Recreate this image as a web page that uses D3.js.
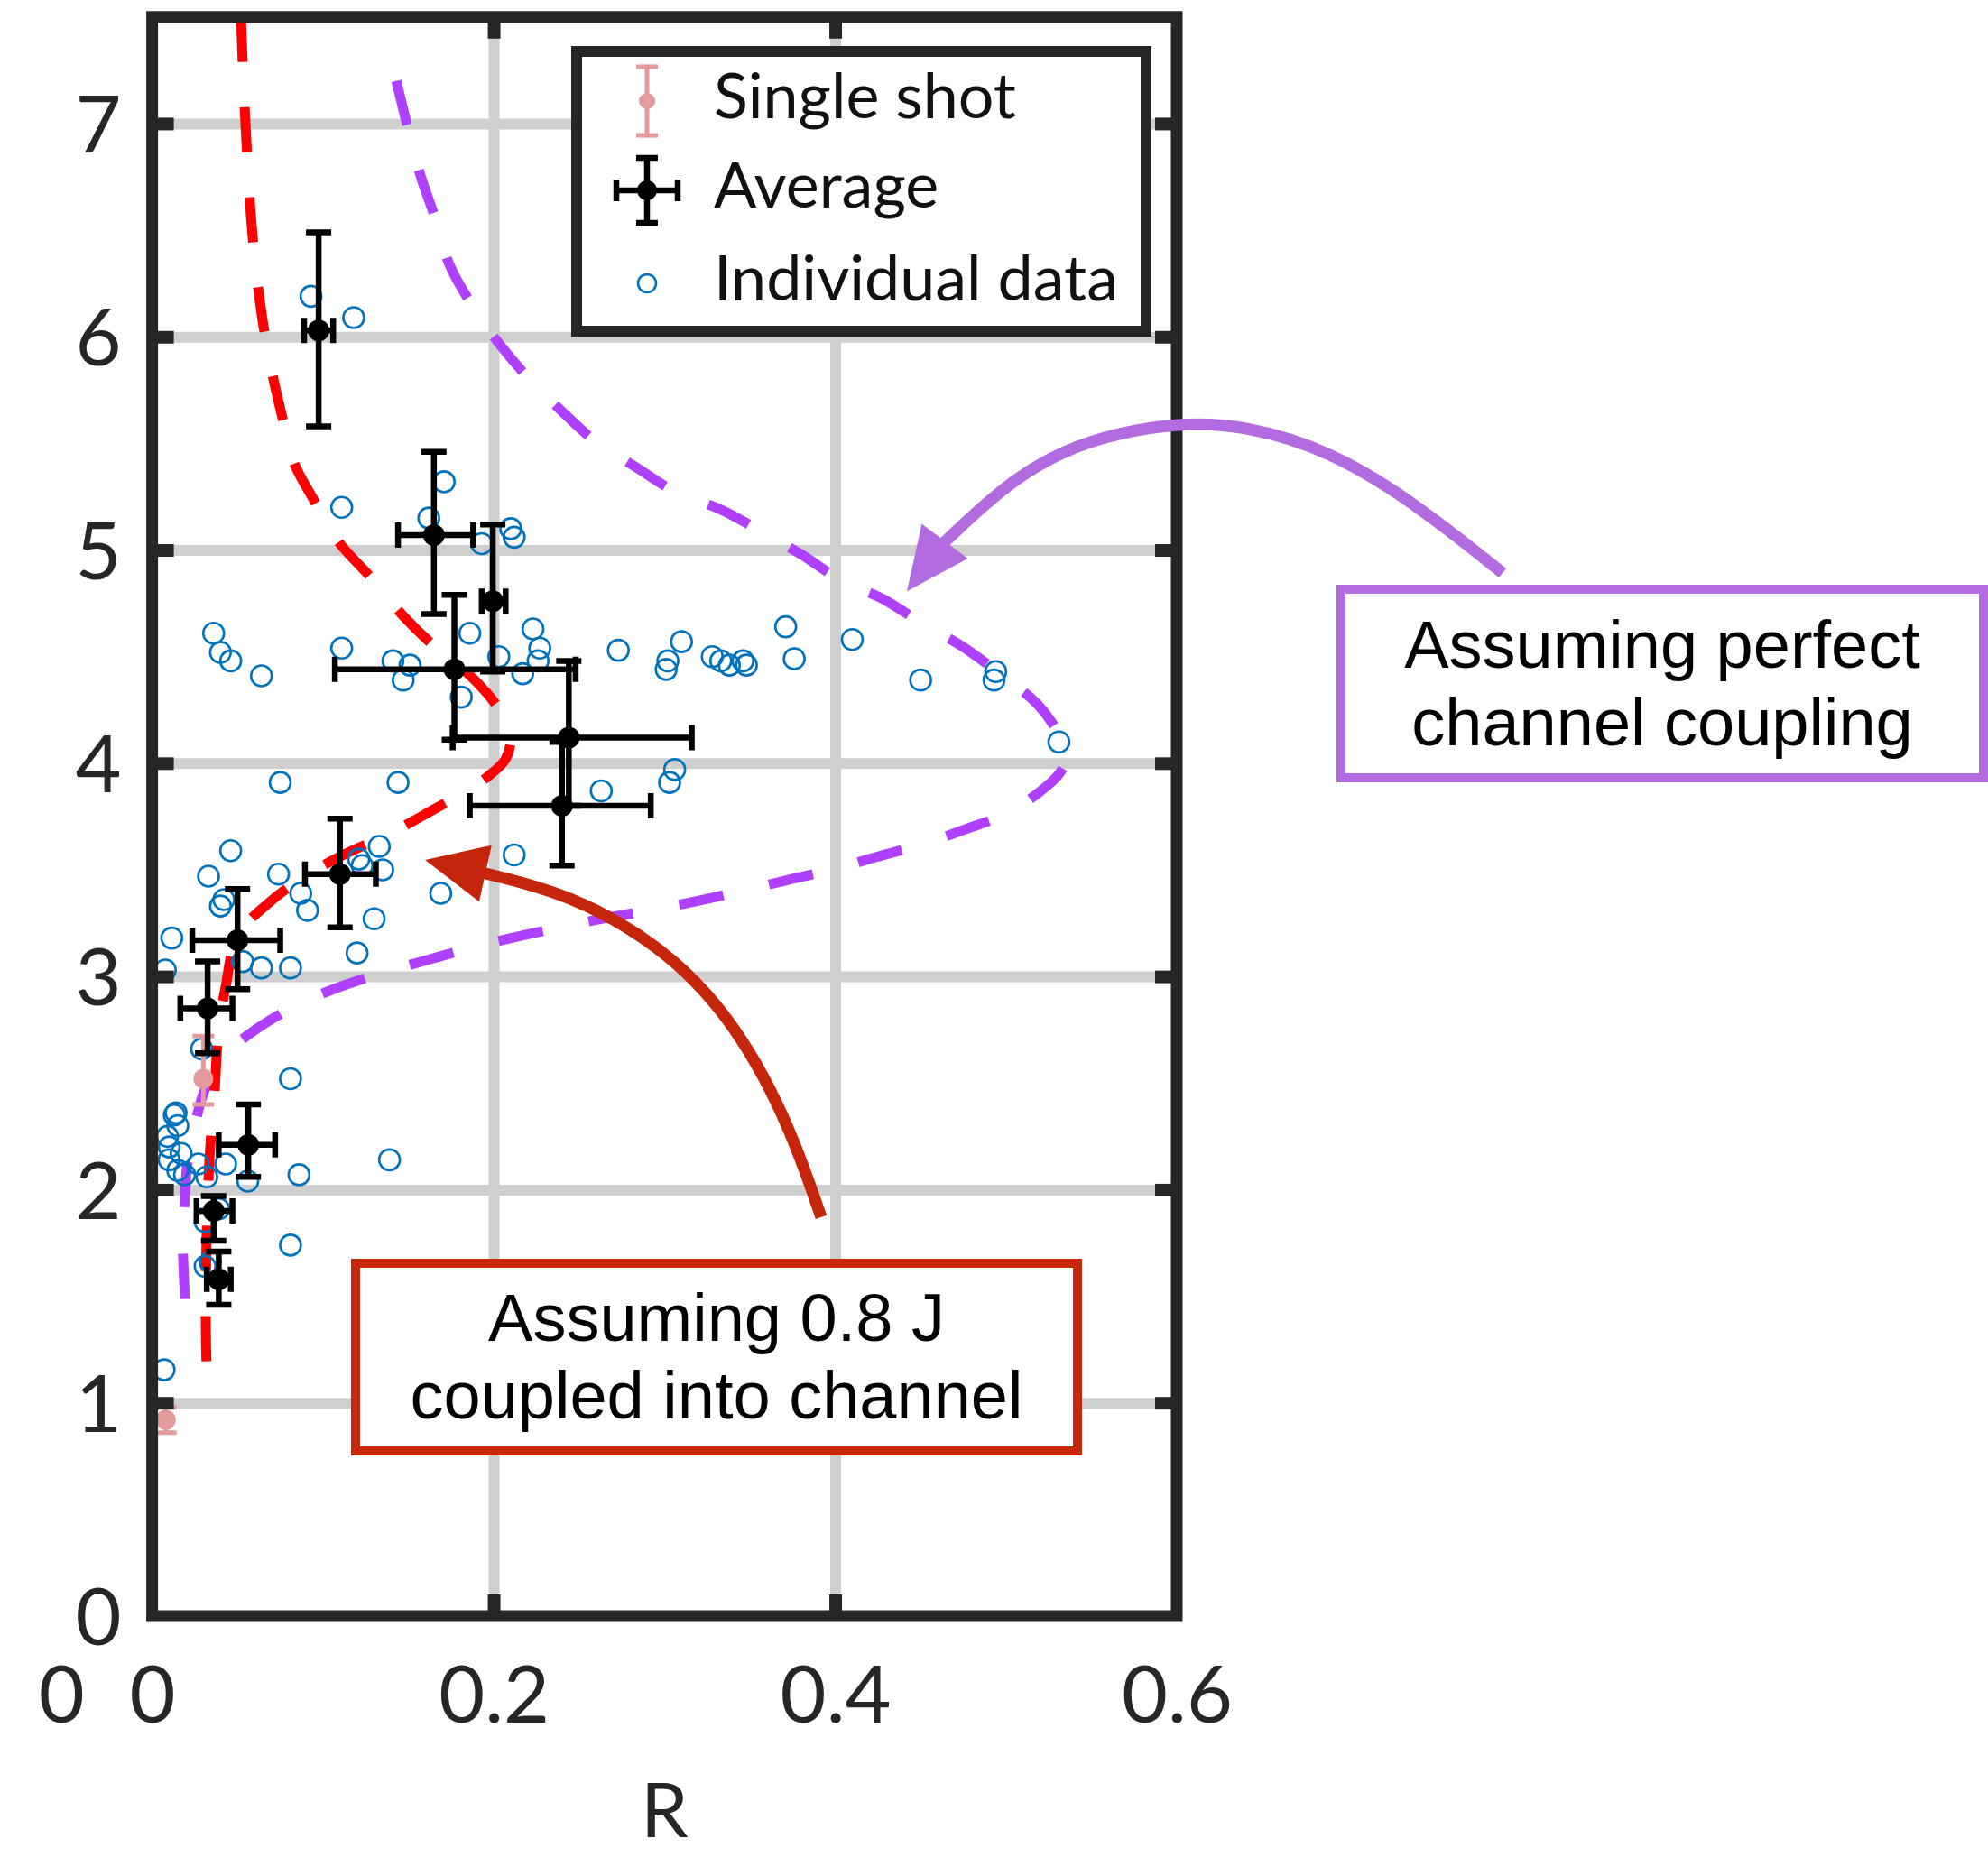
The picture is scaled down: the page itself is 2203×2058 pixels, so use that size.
<!DOCTYPE html>
<html>
<head>
<meta charset="utf-8">
<script src="https://cdn.jsdelivr.net/npm/d3@7"></script>
<style>
  html, body { margin: 0; padding: 0; background: #fff; }
  svg { display: block; }
</style>
</head>
<body>
<div id="chart"></div>
<script>
// ---- data ----
const xTicks = [0, 0.2, 0.4, 0.6];
const xTickLabels = ["0", "0.2", "0.4", "0.6"];
const yTicks = [0, 1, 2, 3, 4, 5, 6, 7];
const xGrid = [0.2, 0.4];
const yGrid = [1, 2, 3, 4, 5, 6, 7];

// model curve, 0.8 J coupled into channel (red dashed)
const redR = [0.052, 0.054, 0.056, 0.058, 0.061, 0.065, 0.070, 0.076, 0.083, 0.095, 0.109, 0.127, 0.146, 0.165, 0.185, 0.200, 0.207, 0.210, 0.207, 0.197, 0.186, 0.162, 0.139, 0.112, 0.0895, 0.0675, 0.050, 0.043, 0.039, 0.0365, 0.034, 0.0325, 0.0315, 0.0315, 0.0325];
const redY = [7.5, 7.1, 6.8, 6.55, 6.3, 6.06, 5.84, 5.63, 5.41, 5.23, 5.04, 4.88, 4.70, 4.55, 4.42, 4.29, 4.20, 4.12, 4.02, 3.94, 3.88, 3.77, 3.67, 3.57, 3.47, 3.34, 3.19, 2.95, 2.76, 2.45, 2.2, 1.95, 1.6, 1.3, 1.0];

// model curve, perfect channel coupling (purple dashed)
const purpleR = [0.143, 0.150, 0.157, 0.166, 0.174, 0.188, 0.202, 0.221, 0.240, 0.261, 0.283, 0.307, 0.333, 0.356, 0.380, 0.403, 0.428, 0.452, 0.474, 0.498, 0.518, 0.530, 0.536, 0.532, 0.525, 0.502, 0.476, 0.451, 0.424, 0.398, 0.371, 0.345, 0.317, 0.291, 0.263, 0.239, 0.210, 0.185, 0.158, 0.132, 0.106, 0.081, 0.057, 0.041, 0.030, 0.025, 0.021, 0.019, 0.018, 0.019, 0.020];
const purpleY = [7.20, 6.97, 6.76, 6.55, 6.34, 6.14, 5.98, 5.80, 5.65, 5.50, 5.39, 5.27, 5.19, 5.09, 4.98, 4.86, 4.77, 4.65, 4.55, 4.41, 4.28, 4.15, 4.04, 3.96, 3.90, 3.77, 3.69, 3.62, 3.56, 3.50, 3.45, 3.40, 3.35, 3.31, 3.27, 3.23, 3.18, 3.13, 3.07, 3.01, 2.94, 2.85, 2.73, 2.62, 2.45, 2.30, 2.15, 1.94, 1.75, 1.52, 1.31];

// averages with error bars
const avgR  = [0.0975, 0.165, 0.1995, 0.177, 0.244, 0.240, 0.110, 0.050, 0.0325, 0.0563, 0.036, 0.039];
const avgY  = [6.03, 5.07, 4.76, 4.44, 4.12, 3.80, 3.48, 3.17, 2.85, 2.21, 1.90, 1.58];
const avgYlo = [5.58, 4.70, 4.43, 4.11, 3.80, 3.52, 3.23, 2.94, 2.64, 2.06, 1.76, 1.46];
const avgYhi = [6.49, 5.46, 5.12, 4.79, 4.48, 4.10, 3.74, 3.41, 3.07, 2.40, 1.97, 1.71];
const avgRlo = [0.089, 0.144, 0.193, 0.107, 0.176, 0.186, 0.0895, 0.0235, 0.0165, 0.039, 0.026, 0.032];
const avgRhi = [0.106, 0.188, 0.207, 0.248, 0.316, 0.292, 0.131, 0.075, 0.047, 0.072, 0.047, 0.046];

// single shots
const singleR = [0.030, 0.008];
const singleY = [2.52, 0.92];
const singleYlo = [2.40, 0.86];
const singleYhi = [2.72, 0.98];

// individual data
const indR = [0.093, 0.118, 0.171, 0.111, 0.162, 0.193, 0.210, 0.212, 0.186, 0.223, 0.203, 0.227, 0.226, 0.217, 0.111, 0.036, 0.040, 0.046, 0.064, 0.141, 0.151, 0.147, 0.181,
  0.273, 0.302, 0.301, 0.310, 0.328, 0.333, 0.338, 0.346, 0.348, 0.371, 0.376, 0.410, 0.450, 0.494, 0.493, 0.531, 0.306, 0.303, 0.263,
  0.075, 0.144, 0.212, 0.046, 0.033, 0.074, 0.087, 0.091, 0.040, 0.042, 0.133, 0.121, 0.123, 0.135, 0.169, 0.130, 0.0115, 0.120, 0.064, 0.081, 0.053, 0.0077,
  0.029, 0.081, 0.014, 0.139, 0.086, 0.081, 0.056, 0.007, 0.031, 0.013, 0.015, 0.009, 0.010, 0.017, 0.0099, 0.015, 0.019, 0.027, 0.032, 0.043, 0.039, 0.031, 0.034];
const indY = [6.19, 6.09, 5.32, 5.20, 5.15, 5.03, 5.10, 5.06, 4.61, 4.63, 4.50, 4.54, 4.48, 4.42, 4.54, 4.61, 4.52, 4.48, 4.41, 4.48, 4.46, 4.39, 4.31,
  4.53, 4.48, 4.44, 4.57, 4.50, 4.48, 4.46, 4.48, 4.46, 4.64, 4.49, 4.58, 4.39, 4.43, 4.39, 4.10, 3.97, 3.91, 3.87,
  3.91, 3.91, 3.57, 3.59, 3.47, 3.48, 3.39, 3.31, 3.33, 3.36, 3.61, 3.55, 3.52, 3.50, 3.39, 3.27, 3.18, 3.11, 3.04, 3.04, 3.07, 3.03,
  2.66, 2.52, 2.36, 2.14, 2.07, 1.74, 2.04, 1.155, 1.64, 2.35, 2.30, 2.25, 2.20, 2.17, 2.14, 2.09, 2.07, 2.12, 2.06, 2.12, 1.91, 1.85, 1.66];

const legendLabels = ["Single shot", "Average", "Individual data"];

// annotation arrows, in data units (R, y); last point is where the head starts
const redArrowR = [0.3918, 0.3711, 0.3380, 0.2972, 0.2449, 0.1931];
const redArrowY = [1.871, 2.349, 2.823, 3.149, 3.386, 3.487];
const redArrowTip = [0.1598, 3.546];
const purpleArrowR = [0.7908, 0.7427, 0.6904, 0.6386, 0.6016, 0.5493, 0.5049, 0.4629];
const purpleArrowY = [4.892, 5.201, 5.468, 5.586, 5.599, 5.527, 5.349, 5.028];
const purpleArrowTip = [0.4420, 4.807];

// ---- layout ----
const width = 2203, height = 2058;
const plot = { left: 168.6, right: 1304, top: 18.8, bottom: 1791 };
const dark = "#262626";
const tickFont = "Lato, 'Open Sans', sans-serif";

const x = d3.scaleLinear().domain([0, 0.6]).range([plot.left, plot.right]);
const y = d3.scaleLinear().domain([0, 7.5]).range([plot.bottom, plot.top]);

const svg = d3.select("#chart").append("svg")
    .attr("width", width)
    .attr("height", height);

svg.append("rect").attr("width", width).attr("height", height).attr("fill", "#fff");

svg.append("clipPath").attr("id", "plot-clip")
  .append("rect")
    .attr("x", plot.left).attr("y", plot.top)
    .attr("width", plot.right - plot.left)
    .attr("height", plot.bottom - plot.top);

// gridlines
const gridY = svg.append("g")
    .attr("transform", `translate(${plot.left},0)`)
    .call(d3.axisLeft(y).tickValues(yGrid).tickSize(-(plot.right - plot.left)).tickFormat(""));
const gridX = svg.append("g")
    .attr("transform", `translate(0,${plot.bottom})`)
    .call(d3.axisBottom(x).tickValues(xGrid).tickSize(-(plot.bottom - plot.top)).tickFormat(""));
[gridY, gridX].forEach(g => {
  g.select(".domain").remove();
  g.selectAll("line").attr("stroke", "#cfcfcf").attr("stroke-width", 12);
});

// model curves
const data = svg.append("g").attr("clip-path", "url(#plot-clip)");
const curve = d3.line().curve(d3.curveCatmullRom.alpha(0.5)).x(d => x(d[0])).y(d => y(d[1]));

data.append("path")
    .datum(d3.zip(purpleR, purpleY))
    .attr("fill", "none")
    .attr("stroke", "#b040ff")
    .attr("stroke-width", 11)
    .attr("stroke-dasharray", "50,52")
    .attr("d", curve);

data.append("path")
    .datum(d3.zip(redR, redY))
    .attr("fill", "none")
    .attr("stroke", "#ff0000")
    .attr("stroke-width", 11)
    .attr("stroke-dasharray", "50,50")
    .attr("d", curve);

// individual data
data.append("g")
  .selectAll("circle")
  .data(d3.zip(indR, indY))
  .join("circle")
    .attr("cx", d => x(d[0]))
    .attr("cy", d => y(d[1]))
    .attr("r", 11.5)
    .attr("fill", "none")
    .attr("stroke", "#0072bd")
    .attr("stroke-width", 2.6);

// single shots
const pink = "#e39a9a";
const singles = data.append("g")
  .selectAll("g")
  .data(singleR.map((r, i) => ({ r, v: singleY[i], lo: singleYlo[i], hi: singleYhi[i] })))
  .join("g")
    .attr("stroke", pink)
    .attr("stroke-width", 5);
singles.append("line")
    .attr("x1", d => x(d.r)).attr("x2", d => x(d.r))
    .attr("y1", d => y(d.lo)).attr("y2", d => y(d.hi));
singles.append("line")
    .attr("x1", d => x(d.r) - 12).attr("x2", d => x(d.r) + 12)
    .attr("y1", d => y(d.hi)).attr("y2", d => y(d.hi));
singles.append("line")
    .attr("x1", d => x(d.r) - 12).attr("x2", d => x(d.r) + 12)
    .attr("y1", d => y(d.lo)).attr("y2", d => y(d.lo));
singles.append("circle")
    .attr("cx", d => x(d.r)).attr("cy", d => y(d.v))
    .attr("r", 11).attr("fill", pink).attr("stroke", "none");

// averages
const cap = 14;
const avgs = data.append("g")
  .selectAll("g")
  .data(avgR.map((r, i) => ({ r, v: avgY[i], ylo: avgYlo[i], yhi: avgYhi[i], rlo: avgRlo[i], rhi: avgRhi[i] })))
  .join("g")
    .attr("stroke", "#000")
    .attr("stroke-width", 6.5);
avgs.append("path")
    .attr("fill", "none")
    .attr("d", d => {
      const cx = x(d.r), cy = y(d.v);
      const y0 = y(d.ylo), y1 = y(d.yhi), x0 = x(d.rlo), x1 = x(d.rhi);
      return `M${cx},${y0}V${y1}M${cx - cap},${y1}H${cx + cap}M${cx - cap},${y0}H${cx + cap}` +
             `M${x0},${cy}H${x1}M${x0},${cy - cap}V${cy + cap}M${x1},${cy - cap}V${cy + cap}`;
    });
avgs.append("circle")
    .attr("cx", d => x(d.r)).attr("cy", d => y(d.v))
    .attr("r", 12).attr("fill", "#000").attr("stroke", "none");

// frame ticks (inward)
const tickLen = 24;
const frameTicks = [
  svg.append("g").attr("transform", `translate(${plot.left},0)`).call(d3.axisLeft(y).tickValues(yGrid).tickSize(-tickLen).tickFormat("")),
  svg.append("g").attr("transform", `translate(${plot.right},0)`).call(d3.axisRight(y).tickValues(yGrid).tickSize(-tickLen).tickFormat("")),
  svg.append("g").attr("transform", `translate(0,${plot.bottom})`).call(d3.axisBottom(x).tickValues(xGrid).tickSize(-tickLen).tickFormat("")),
  svg.append("g").attr("transform", `translate(0,${plot.top})`).call(d3.axisTop(x).tickValues(xGrid).tickSize(-tickLen).tickFormat(""))
];
frameTicks.forEach(g => {
  g.select(".domain").remove();
  g.selectAll("line").attr("stroke", dark).attr("stroke-width", 14);
});

// frame
svg.append("rect")
    .attr("x", plot.left).attr("y", plot.top)
    .attr("width", plot.right - plot.left)
    .attr("height", plot.bottom - plot.top)
    .attr("fill", "none")
    .attr("stroke", dark)
    .attr("stroke-width", 13);

// tick labels
const yAxis = svg.append("g")
    .attr("transform", `translate(${plot.left},0)`)
    .call(d3.axisLeft(y).tickValues(yTicks).tickSize(0).tickPadding(34).tickFormat(d3.format("d")));
const xAxis = svg.append("g")
    .attr("transform", `translate(0,${plot.bottom})`)
    .call(d3.axisBottom(x).tickValues(xTicks).tickSize(0).tickPadding(56).tickFormat((d, i) => xTickLabels[i]));
[yAxis, xAxis].forEach(g => {
  g.select(".domain").remove();
  g.selectAll("text")
    .attr("fill", dark)
    .style("font-family", tickFont)
    .style("font-size", "88px");
});
yAxis.selectAll("text").attr("dy", "0.36em");

// stray "0" left of the x axis
svg.append("text")
    .attr("x", x(-0.053))
    .attr("y", plot.bottom + 56)
    .attr("dy", "0.71em")
    .attr("text-anchor", "middle")
    .attr("fill", dark)
    .style("font-family", tickFont)
    .style("font-size", "88px")
    .text("0");

// axis label
svg.append("text")
    .attr("x", (plot.left + plot.right) / 2)
    .attr("y", 2036)
    .attr("text-anchor", "middle")
    .attr("fill", dark)
    .style("font-family", tickFont)
    .style("font-size", "84px")
    .text("R");

// legend
const legend = svg.append("g");
legend.append("rect")
    .attr("x", 639).attr("y", 57)
    .attr("width", 631).attr("height", 310)
    .attr("fill", "#fff")
    .attr("stroke", dark)
    .attr("stroke-width", 12);
const symX = 717, rowY = [112, 211, 314];
legendLabels.forEach((t, i) => {
  legend.append("text")
      .attr("x", 791)
      .attr("y", rowY[i] + 19)
      .attr("fill", "#111")
      .style("font-family", tickFont)
      .style("font-size", "70px")
      .text(t);
});
// single shot symbol
legend.append("path")
    .attr("d", `M${symX},${rowY[0] - 38}V${rowY[0] + 38}M${symX - 12},${rowY[0] - 38}H${symX + 12}M${symX - 12},${rowY[0] + 38}H${symX + 12}`)
    .attr("stroke", pink).attr("stroke-width", 5).attr("fill", "none");
legend.append("circle").attr("cx", symX).attr("cy", rowY[0]).attr("r", 9).attr("fill", pink);
// average symbol
legend.append("path")
    .attr("d", `M${symX},${rowY[1] - 36}V${rowY[1] + 36}M${symX - 12},${rowY[1] - 36}H${symX + 12}M${symX - 12},${rowY[1] + 36}H${symX + 12}` +
               `M${symX - 34},${rowY[1]}H${symX + 34}M${symX - 34},${rowY[1] - 12}V${rowY[1] + 12}M${symX + 34},${rowY[1] - 12}V${rowY[1] + 12}`)
    .attr("stroke", "#000").attr("stroke-width", 6.5).attr("fill", "none");
legend.append("circle").attr("cx", symX).attr("cy", rowY[1]).attr("r", 11).attr("fill", "#000");
// individual data symbol
legend.append("circle").attr("cx", symX).attr("cy", rowY[2]).attr("r", 10)
    .attr("fill", "none").attr("stroke", "#0072bd").attr("stroke-width", 2.6);

// annotation boxes
const annFont = "'Liberation Sans', Arial, sans-serif";
function noteBox(bx, by, bw, bh, color, lines, baselines) {
  svg.append("rect")
      .attr("x", bx).attr("y", by).attr("width", bw).attr("height", bh)
      .attr("fill", "#fff").attr("stroke", color).attr("stroke-width", 10);
  lines.forEach((t, i) => {
    svg.append("text")
        .attr("x", bx + bw / 2)
        .attr("y", baselines[i])
        .attr("text-anchor", "middle")
        .attr("fill", "#000")
        .style("font-family", annFont)
        .style("font-size", "74px")
        .text(t);
  });
}
noteBox(394, 1400, 800, 208, "#c8270c", ["Assuming 0.8 J", "coupled into channel"], [1486, 1572]);
noteBox(1486, 653, 712, 209, "#b36ce0", ["Assuming perfect", "channel coupling"], [740, 826]);

// annotation arrows
function arrow(rs, vs, tip, color) {
  const pts = rs.map((r, i) => [x(r), y(vs[i])]);
  const t = [x(tip[0]), y(tip[1])];
  const b = pts[pts.length - 1];
  const dx = t[0] - b[0], dy = t[1] - b[1], len = Math.hypot(dx, dy);
  const ux = dx / len, uy = dy / len, half = 32;
  const bx = b[0] - ux * 4, by = b[1] - uy * 4;
  svg.append("path")
      .attr("d", d3.line().curve(d3.curveBasis)(pts))
      .attr("fill", "none")
      .attr("stroke", color)
      .attr("stroke-width", 13);
  svg.append("path")
      .attr("d", `M${t[0]},${t[1]}L${bx - uy * half},${by + ux * half}L${bx + uy * half},${by - ux * half}Z`)
      .attr("fill", color);
}
arrow(redArrowR, redArrowY, redArrowTip, "#c5260b");
arrow(purpleArrowR, purpleArrowY, purpleArrowTip, "#b36ce0");
</script>
</body>
</html>
